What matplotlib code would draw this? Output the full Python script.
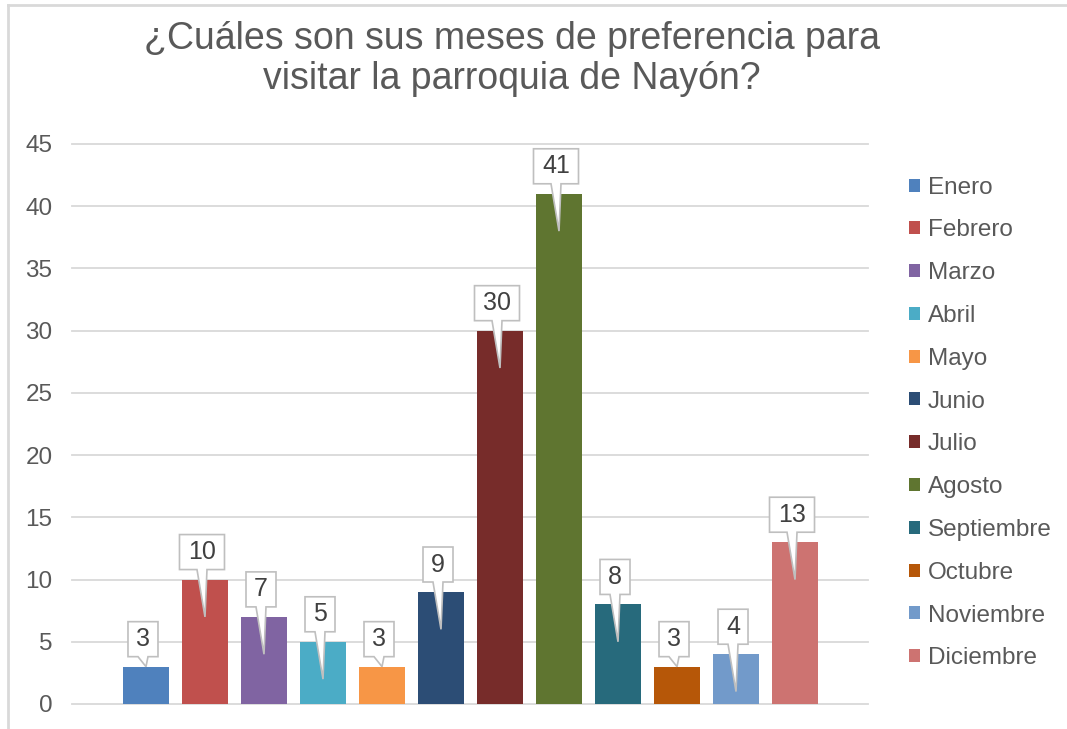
import matplotlib
matplotlib.use("Agg")
import matplotlib.pyplot as plt
from matplotlib.patches import Polygon, Patch
from matplotlib.lines import Line2D
import numpy as np

plt.rcParams['font.family'] = ['Liberation Sans', 'DejaVu Sans']

# data
months = ['Enero', 'Febrero', 'Marzo', 'Abril', 'Mayo', 'Junio', 'Julio',
          'Agosto', 'Septiembre', 'Octubre', 'Noviembre', 'Diciembre']
counts = [3, 10, 7, 5, 3, 9, 30, 41, 8, 3, 4, 13]
colors = ['#4F81BD', '#C0504D', '#8064A2', '#4BACC6', '#F79646', '#2C4D75',
          '#772C2A', '#5F7530', '#276A7C', '#B65708', '#729ACA', '#CD7371']
yticks = [0, 5, 10, 15, 20, 25, 30, 35, 40, 45]
title = '¿Cuáles son sus meses de preferencia para\nvisitar la parroquia de Nayón?'

W, H = 1067, 729
fig = plt.figure(figsize=(W / 100, H / 100), dpi=100)
ax = fig.add_axes([72 / W, 1 - 704 / H, 796 / W, 560 / H])

x = np.arange(len(months))
for i in range(len(months)):
    ax.bar(x[i], counts[i], width=0.78, color=colors[i], label=months[i], zorder=3)

ax.set_xlim(-1.254, 12.237)
ax.set_ylim(0, 45)
ax.set_yticks(yticks)
ax.set_xticks([])
for t in yticks:
    ax.axhline(t, color='#D9D9D9', lw=1.3, zorder=1, clip_on=False)
for s in ax.spines.values():
    s.set_visible(False)
ax.tick_params(axis='y', length=0, pad=14, labelsize=17.5, labelcolor='#595959')

fig.text(512 / W, 1 - 59 / H, title, ha='center', va='center', fontsize=27,
         color='#595959', linespacing=1.15)

# callouts (built in pixels, then mapped back to data)
inv = ax.transData.inverted()
for i, v in enumerate(counts):
    bx, by = ax.transData.transform((x[i], v))
    tip_v = v - 3 if v > 3 else v
    tx, ty = ax.transData.transform((x[i], tip_v))
    lab = str(v)
    bw = 30 if len(lab) == 1 else 45
    bh = 35
    b0 = by + 10
    cx = bx - 3
    pts = [(cx - bw / 2, b0 + bh), (cx + bw / 2, b0 + bh), (cx + bw / 2, b0),
           (cx + 5, b0), (tx, ty), (cx - 5, b0), (cx - bw / 2, b0)]
    pts = inv.transform(pts)
    ax.add_patch(Polygon(pts, closed=True, facecolor='white', edgecolor='#BFBFBF',
                         lw=1.2, zorder=4, clip_on=False))
    ax.text(*inv.transform((cx, b0 + bh / 2)), lab, ha='center', va='center',
            fontsize=18, color='#404040', zorder=5)

handles = [Patch(facecolor=c, edgecolor='none') for c in colors]
fig.legend(handles, months, loc='center left', bbox_to_anchor=(899 / W, 1 - 423 / H),
           frameon=False, fontsize=17.5, labelcolor='#595959', handlelength=0.45,
           handleheight=0.45, handletextpad=0.35, labelspacing=0.855, borderaxespad=0)

# chart border
fig.add_artist(Line2D([8 / W, 8 / W], [0, 1 - 5 / H], color='#D9D9D9', lw=2))
fig.add_artist(Line2D([8 / W, 1], [1 - 5 / H, 1 - 5 / H], color='#D9D9D9', lw=2))

fig.savefig('out.png', dpi=100)
